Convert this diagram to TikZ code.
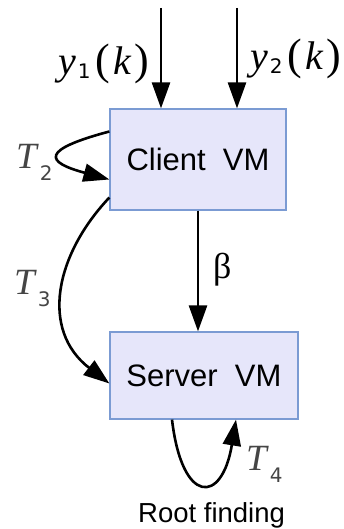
\documentclass[tikz,border=0pt]{standalone}
\usepackage{fontspec}
\setmainfont{Liberation Serif}
\setsansfont{Liberation Sans}
\newfontfamily\mathdigits{DejaVu Sans}
\usetikzlibrary{arrows.meta}
\definecolor{boxfill}{HTML}{E6E6FA}
\definecolor{boxline}{HTML}{7B9BD3}
\definecolor{labelgray}{HTML}{454545}
% time labels T_i and inputs y_i(k)
\newcommand{\tvar}[1]{{\fontsize{37}{37}\selectfont\itshape T}\kern3pt\raisebox{-12pt}{\mathdigits\fontsize{20}{20}\selectfont #1}}
\newcommand{\yin}[1]{{\fontsize{40}{40}\selectfont\itshape y}\kern2pt\raisebox{-4pt}{\mathdigits\fontsize{20}{20}\selectfont #1}\kern5pt{\fontsize{44}{44}\selectfont(}\kern3pt{\fontsize{40}{40}\selectfont\itshape k}\kern3pt{\fontsize{44}{44}\selectfont)}}
\tikzset{
  vm/.style={draw=boxline, fill=boxfill, line width=1.2pt,
    font=\sffamily\fontsize{31}{31}\selectfont, inner sep=0pt},
  flow/.style={line width=2.6pt, -{Triangle[length=26pt,width=18pt]}},
  tlabel/.style={text=labelgray, inner sep=0pt, anchor=base west},
  plainlabel/.style={inner sep=0pt, anchor=base west},
}
\begin{document}
\begin{tikzpicture}[x=1pt,y=-1pt]
\useasboundingbox (0,0) rectangle (343,529);

% the two virtual machines
\node[vm, minimum width=176pt, minimum height=101pt] (client) at (198,159.5) {Client\ \ VM};
\node[vm, minimum width=188pt, minimum height=87pt] (server) at (204,375.5) {Server\ \ VM};

% inputs
\coordinate (in1) at (161,8);
\coordinate (in2) at (237,8);
\draw[flow] (in1) -- (in1 |- client.north);
\draw[flow] (in2) -- (in2 |- client.north);
\node[plainlabel] (y1lab) at (58,75) {\yin{1}};
\node[plainlabel] (y2lab) at (250,70) {\yin{2}};

% client -> server
\draw[flow] (client.south) -- (client.south |- server.north);
\node[plainlabel, font=\fontsize{36}{36}\selectfont] (beta) at (213,278) {β};

% self loop on the client
\draw[flow] ([yshift=28pt]client.west) .. controls (40,150) and (45,162) .. ([yshift=-20pt]client.west);
\node[tlabel] (t2) at (16,169) {\tvar{2}};

% client -> server side path
\draw[flow] ([yshift=-38pt]client.west) .. controls (55,255) and (40,330) .. ([yshift=-8pt]server.west);
\node[tlabel] (t3) at (14,294) {\tvar{3}};

% root finding loop on the server
\draw[flow] ([xshift=-32pt]server.south) .. controls (182,505) and (222,505) .. ([xshift=32pt]server.south);
\node[tlabel] (t4) at (246,470) {\tvar{4}};
\node[plainlabel, font=\sffamily\fontsize{27.5}{27.5}\selectfont] (root) at (138,522) {Root finding};
\end{tikzpicture}
\end{document}
